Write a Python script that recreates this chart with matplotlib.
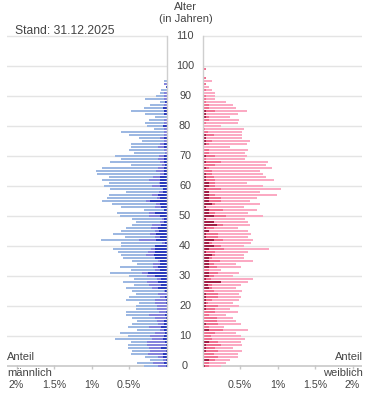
import numpy as np
import matplotlib
matplotlib.use("Agg")
import matplotlib.pyplot as plt
from matplotlib import transforms

plt.rcParams['font.family'] = ['Liberation Sans', 'DejaVu Sans']

# === Daten (Anteil in %, kumulativ: gesamt / mittel / dunkel) ===
ages_m = list(range(0, 96))
m_total = [0.30, 0.40, 0.22, 0.29, 0.48, 0.46, 0.52, 0.52, 0.48, 0.69,
           0.52, 0.62, 0.40, 0.52, 0.46, 0.40, 0.46, 0.54, 0.54, 0.41,
           0.41, 0.37, 0.54, 0.50, 0.41, 0.46, 0.54, 0.44, 0.58, 0.44,
           0.50, 0.76, 0.48, 0.62, 0.40, 0.46, 0.58, 0.61, 0.65, 0.72,
           0.61, 0.61, 0.88, 0.56, 0.72, 0.61, 0.54, 0.46, 0.41, 0.46,
           0.62, 0.66, 0.30, 0.61, 0.73, 0.86, 0.80, 0.77, 0.54, 0.76,
           0.84, 0.77, 0.86, 0.77, 0.93, 0.94, 0.86, 0.48, 0.76, 0.61,
           0.69, 0.44, 0.50, 0.48, 0.48, 0.33, 0.37, 0.50, 0.61, 0.17,
           0.26, 0.29, 0.24, 0.16, 0.29, 0.48, 0.30, 0.22, 0.09, 0.29,
           0.14, 0.09, 0.08, 0.01, 0.04, 0.04]
m_mid = [0.12, 0.18, 0.05, 0.12, 0.25, 0.22, 0.24, 0.26, 0.26, 0.20,
         0.22, 0.16, 0.09, 0.24, 0.12, 0.13, 0.16, 0.24, 0.10, 0.13,
         0.13, 0.16, 0.16, 0.09, 0.12, 0.04, 0.20, 0.24, 0.26, 0.13,
         0.26, 0.33, 0.16, 0.18, 0.18, 0.12, 0.16, 0.28, 0.25, 0.21,
         0.16, 0.06, 0.37, 0.16, 0.22, 0.16, 0.21, 0.20, 0.09, 0.06,
         0.24, 0.24, 0.04, 0.16, 0.14, 0.28, 0.13, 0.20, 0.10, 0.05,
         0.20, 0.10, 0.24, 0.18, 0.09, 0.14, 0.12, 0.06, 0.09, 0.12,
         0.10, 0.02, 0.04, 0.11, 0.09, 0.04, 0.09, 0.04, 0.04, 0.04,
         0.05, 0.04, 0.04, 0.00, 0.04, 0.04, 0.05, 0.04, 0.02, 0.04,
         0.04, 0.04, 0.00, 0.01, 0.04, 0.00]
m_dark = [0.01, 0.04, 0.01, 0.05, 0.05, 0.01, 0.08, 0.01, 0.02, 0.05,
          0.04, 0.02, 0.04, 0.08, 0.04, 0.04, 0.01, 0.02, 0.01, 0.00,
          0.00, 0.01, 0.01, 0.02, 0.00, 0.02, 0.12, 0.08, 0.12, 0.08,
          0.16, 0.25, 0.09, 0.12, 0.09, 0.09, 0.16, 0.17, 0.16, 0.16,
          0.16, 0.02, 0.14, 0.09, 0.14, 0.10, 0.12, 0.08, 0.04, 0.04,
          0.09, 0.16, 0.04, 0.08, 0.09, 0.22, 0.09, 0.12, 0.05, 0.05,
          0.09, 0.09, 0.09, 0.09, 0.04, 0.04, 0.04, 0.02, 0.03, 0.04,
          0.04, 0.00, 0.00, 0.04, 0.04, 0.00, 0.04, 0.00, 0.00, 0.00,
          0.05, 0.00, 0.00, 0.00, 0.04, 0.04, 0.05, 0.00, 0.02, 0.00,
          0.00, 0.00, 0.00, 0.01, 0.00, 0.00]

ages_w = list(range(0, 101))
w_total = [0.25, 0.31, 0.36, 0.47, 0.47, 0.52, 0.41, 0.52, 0.51, 0.56,
           0.51, 0.44, 0.61, 0.29, 0.51, 0.44, 0.40, 0.31, 0.47, 0.36,
           0.48, 0.40, 0.48, 0.51, 0.48, 0.52, 0.44, 0.51, 0.61, 0.67,
           0.40, 0.48, 0.25, 0.51, 0.44, 0.67, 0.55, 0.55, 0.61, 0.88,
           0.55, 0.65, 0.67, 0.61, 0.65, 0.61, 0.47, 0.63, 0.61, 0.56,
           0.80, 0.61, 0.73, 0.55, 0.77, 0.63, 0.73, 0.99, 0.77, 1.04,
           0.80, 0.59, 0.95, 0.84, 0.80, 0.77, 0.93, 0.84, 0.87, 0.56,
           0.59, 0.56, 0.61, 0.37, 0.59, 0.63, 0.52, 0.52, 0.52, 0.55,
           0.25, 0.47, 0.48, 0.37, 0.47, 0.59, 0.44, 0.40, 0.31, 0.16,
           0.16, 0.16, 0.12, 0.09, 0.04, 0.12, 0.04, 0.01, 0.01, 0.04,
           0.01]
w_mid = [0.08, 0.08, 0.17, 0.20, 0.15, 0.21, 0.17, 0.24, 0.20, 0.13,
         0.11, 0.17, 0.27, 0.09, 0.21, 0.19, 0.19, 0.09, 0.16, 0.17,
         0.20, 0.07, 0.13, 0.20, 0.20, 0.15, 0.13, 0.12, 0.24, 0.11,
         0.15, 0.21, 0.08, 0.19, 0.15, 0.23, 0.12, 0.16, 0.17, 0.28,
         0.24, 0.13, 0.27, 0.20, 0.21, 0.09, 0.15, 0.27, 0.15, 0.04,
         0.31, 0.16, 0.27, 0.05, 0.17, 0.24, 0.25, 0.17, 0.09, 0.24,
         0.16, 0.16, 0.16, 0.15, 0.12, 0.12, 0.09, 0.17, 0.24, 0.05,
         0.16, 0.09, 0.09, 0.00, 0.09, 0.12, 0.05, 0.15, 0.07, 0.03,
         0.00, 0.05, 0.09, 0.08, 0.05, 0.16, 0.08, 0.08, 0.04, 0.04,
         0.04, 0.02, 0.04, 0.01, 0.04, 0.00, 0.04, 0.00, 0.00, 0.04,
         0.01]
w_dark = [0.03, 0.01, 0.08, 0.01, 0.01, 0.05, 0.05, 0.05, 0.08, 0.01,
          0.01, 0.01, 0.08, 0.00, 0.05, 0.00, 0.00, 0.01, 0.00, 0.05,
          0.04, 0.04, 0.05, 0.05, 0.04, 0.01, 0.08, 0.07, 0.24, 0.05,
          0.09, 0.09, 0.00, 0.09, 0.09, 0.08, 0.08, 0.12, 0.05, 0.09,
          0.15, 0.08, 0.15, 0.04, 0.05, 0.09, 0.04, 0.19, 0.15, 0.04,
          0.15, 0.09, 0.08, 0.05, 0.12, 0.08, 0.08, 0.08, 0.08, 0.05,
          0.08, 0.08, 0.05, 0.04, 0.04, 0.00, 0.04, 0.01, 0.05, 0.01,
          0.04, 0.00, 0.01, 0.00, 0.05, 0.04, 0.04, 0.04, 0.01, 0.01,
          0.00, 0.00, 0.01, 0.04, 0.04, 0.04, 0.00, 0.01, 0.00, 0.00,
          0.00, 0.00, 0.00, 0.01, 0.00, 0.00, 0.00, 0.00, 0.00, 0.00,
          0.01]

age_ticks = list(range(0, 111, 10))
pct_ticks = [0.5, 1.0, 1.5, 2.0]
pct_labels = ["0.5%", "1%", "1.5%", "2%"]

# === Farben ===
M_COLS = ["#9db8e2", "#8483dc", "#2c3cbc"]
W_COLS = ["#fbaac3", "#f07091", "#a21f46"]
TXT = "#444444"

W, H = 375, 416
fig = plt.figure(figsize=(W / 100, H / 100), dpi=100)

XMAX = 2.13
PX = 75.0  # px je 1 %
bottom = 1 - 369 / H
height = (369 - 33) / H
ax_m = fig.add_axes([(166.5 - XMAX * PX) / W, bottom, XMAX * PX / W, height])
ax_w = fig.add_axes([202.5 / W, bottom, XMAX * PX / W, height])


def draw_side(ax, ages, total, mid, dark, cols):
    bh = 0.72
    ax.barh(ages, total, height=bh, color=cols[0], zorder=3, clip_on=False)
    ax.barh(ages, mid, height=bh, color=cols[1], zorder=4, clip_on=False)
    ax.barh(ages, dark, height=bh, color=cols[2], zorder=5, clip_on=False)
    ax.set_xlim(0, XMAX)
    ax.set_ylim(-1, 111)
    for s in ax.spines.values():
        s.set_visible(False)
    for a in age_ticks[1:]:
        ax.axhline(a, color="#e4e4e4", lw=1, zorder=1)
    ax.axhline(0, color="#c8c8c8", lw=1.2, zorder=2)
    ax.plot([0, 0], [0, 110], color="#cfcfcf", lw=1, zorder=6, clip_on=False)
    ax.set_yticks([])
    ax.set_xticks(pct_ticks)
    ax.set_xticklabels(pct_labels)
    ax.tick_params(axis="x", direction="in", length=3, width=1, color="#c8c8c8",
                   labelsize=7.7, labelcolor=TXT, pad=8)


draw_side(ax_m, ages_m, m_total, m_mid, m_dark, M_COLS)
draw_side(ax_w, ages_w, w_total, w_mid, w_dark, W_COLS)
ax_m.invert_xaxis()

# Alters-Beschriftung in der Mitte
tr = transforms.blended_transform_factory(fig.transFigure, ax_w.transData)
for a in age_ticks:
    fig.text(185 / W, a, str(a), transform=tr, ha="center", va="center",
             fontsize=7.8, color=TXT)

fig.text(185 / W, 1 - 7 / H, "Alter", ha="center", va="center", fontsize=8, color=TXT)
fig.text(186 / W, 1 - 18.5 / H, "(in Jahren)", ha="center", va="center", fontsize=8, color=TXT)
fig.text(15 / W, 1 - 30.5 / H, "Stand: 31.12.2025", ha="left", va="center", fontsize=8.7, color=TXT)

fig.text(7 / W, 1 - 357.5 / H, "Anteil", ha="left", va="center", fontsize=8, color=TXT)
fig.text(7 / W, 1 - 373 / H, "männlich", ha="left", va="center", fontsize=8, color=TXT)
fig.text(363 / W, 1 - 357.5 / H, "Anteil", ha="right", va="center", fontsize=8, color=TXT)
fig.text(363 / W, 1 - 373 / H, "weiblich", ha="right", va="center", fontsize=8, color=TXT)

fig.savefig("out.png", dpi=100)
